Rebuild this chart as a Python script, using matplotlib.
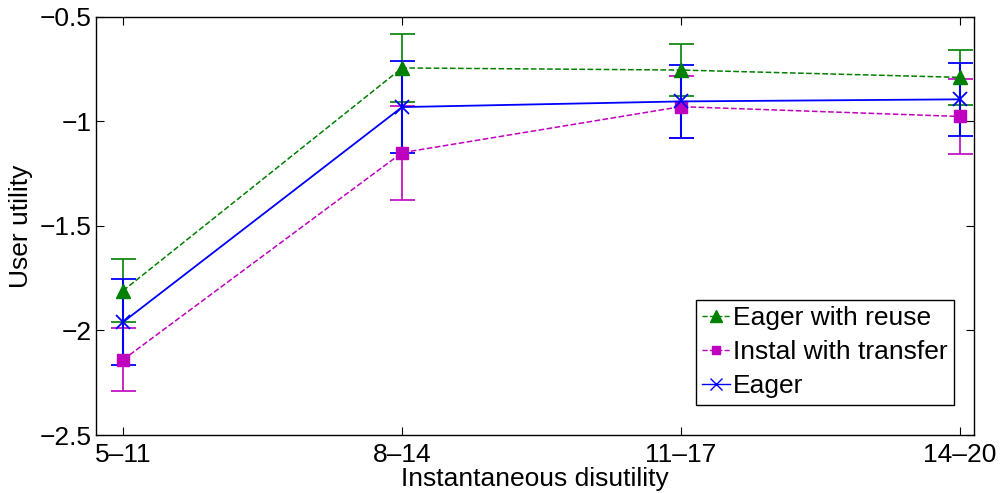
import numpy as np
import matplotlib
matplotlib.use('Agg')
import matplotlib.pyplot as plt
from matplotlib.lines import Line2D

plt.rcParams['font.family'] = ['Liberation Sans', 'DejaVu Sans']

categories = ['5\u201311', '8\u201314', '11\u201317', '14\u201320']

reuse_mean = [-1.81, -0.745, -0.755, -0.79]
reuse_err = [0.15, 0.163, 0.125, 0.13]

transfer_mean = [-2.14, -1.15, -0.93, -0.977]
transfer_err = [0.15, 0.225, 0.148, 0.177]

eager_mean = [-1.96, -0.932, -0.905, -0.895]
eager_err = [0.205, 0.22, 0.175, 0.175]

x = np.arange(len(categories))

fig = plt.figure(figsize=(10, 4.93), dpi=100)
ax = fig.add_axes([0.096, 0.1176, 0.878, 0.8485])

green = (0, 0.5, 0)
ax.errorbar(x, reuse_mean, yerr=reuse_err, color=green, linestyle='--', marker='^',
            markersize=10, linewidth=1.1, capsize=9, elinewidth=1.2, capthick=1.2)
ax.errorbar(x, transfer_mean, yerr=transfer_err, color='m', linestyle='--', marker='s',
            markersize=8, linewidth=1.1, capsize=9, elinewidth=1.2, capthick=1.2)
ax.errorbar(x, eager_mean, yerr=eager_err, color='b', linestyle='-', marker='x',
            markersize=10, markeredgewidth=1.3, linewidth=1.3, capsize=9,
            elinewidth=1.5, capthick=1.5)

ax.set_xlim(-0.097, 3.05)
ax.set_ylim(-2.5, -0.5)
ax.set_xticks(x)
ax.set_xticklabels(categories)
ax.set_yticks([-2.5, -2, -1.5, -1, -0.5])
ax.set_yticklabels(['\u22122.5', '\u22122', '\u22121.5', '\u22121', '\u22120.5'])
ax.tick_params(direction='in', length=6, width=0.8, labelsize=19, top=True, right=True)
ax.tick_params(axis='x', pad=6)
ax.tick_params(axis='y', pad=3)
for s in ax.spines.values():
    s.set_linewidth(1.0)

ax.set_xlabel('Instantaneous disutility', fontsize=19, labelpad=0)
ax.set_ylabel('User utility', fontsize=19, labelpad=5)

# legend shows only line + marker, no error bars
handles = [
    Line2D([], [], color=green, linestyle='--', marker='^', markersize=8, linewidth=1),
    Line2D([], [], color='m', linestyle='--', marker='s', markersize=6, linewidth=1),
    Line2D([], [], color='b', linestyle='-', marker='x', markersize=9, linewidth=1),
]
labels = ['Eager with reuse', 'Instal with transfer', 'Eager']
leg = ax.legend(handles, labels, loc='lower right', bbox_to_anchor=(0.977, 0.072),
                fontsize=19, fancybox=False, edgecolor='black', framealpha=1,
                handlelength=1.05, handletextpad=0.1, borderpad=0.25,
                labelspacing=0.38, borderaxespad=0)
leg.get_frame().set_linewidth(1.0)

fig.savefig('out.png', dpi=100)
